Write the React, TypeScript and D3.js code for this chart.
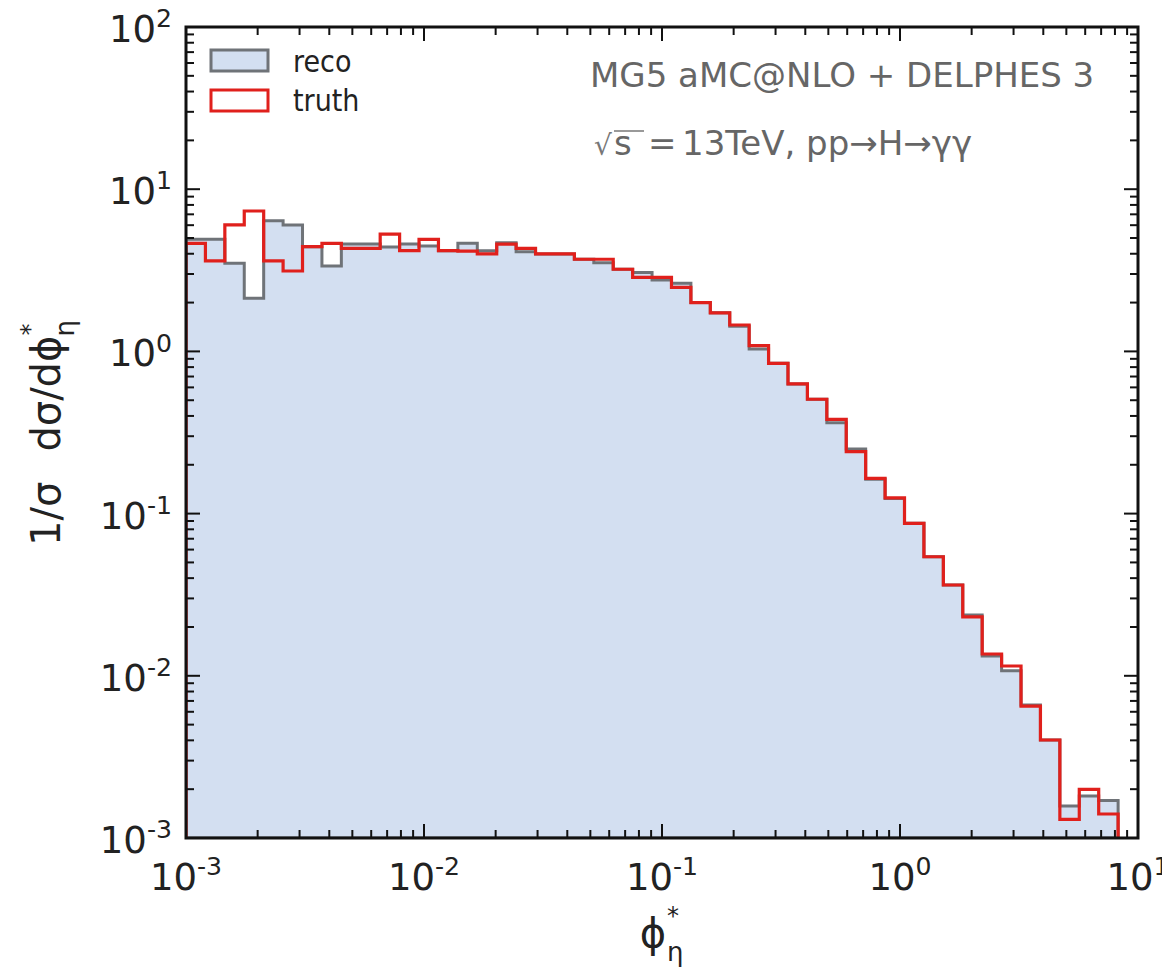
import React from 'react';
import * as d3 from 'd3';

// ---- data ----
const binMin = 1e-3;
const binMax = 8.25;
const nBins = 48;
const reco = [4.91, 4.91, 3.49, 2.13, 6.39, 6.02, 4.42, 3.36, 4.59, 4.59, 4.4, 4.59, 4.47, 4.18, 4.64, 4.18, 4.68, 4.12, 3.99, 3.99, 3.70, 3.52, 3.21, 3.06, 2.76, 2.63, 2.00, 1.73, 1.43, 1.035, 0.844, 0.63, 0.507, 0.363, 0.250, 0.163, 0.124, 0.0871, 0.0542, 0.0363, 0.0237, 0.01325, 0.01075, 0.0066, 0.00402, 0.001575, 0.001815, 0.0017];
const truth = [4.64, 3.62, 6.02, 7.34, 3.62, 3.13, 4.42, 4.64, 4.32, 4.32, 5.29, 4.18, 4.9, 4.18, 4.15, 3.99, 4.59, 4.32, 3.99, 3.99, 3.70, 3.70, 3.21, 2.86, 2.86, 2.48, 2.00, 1.73, 1.455, 1.084, 0.844, 0.630, 0.507, 0.381, 0.241, 0.165, 0.125, 0.0871, 0.0542, 0.0363, 0.0231, 0.01363, 0.01149, 0.00651, 0.00402, 0.001304, 0.001997, 0.001406];
const xTickExps = [-3, -2, -1, 0, 1];
const yTickExps = [-3, -2, -1, 0, 1, 2];
const legendLabels = ['reco', 'truth'];
const annotation1 = 'MG5 aMC@NLO + DELPHES 3';
const annotation2 = '13TeV, pp\u2192H\u2192\u03b3\u03b3';

// ---- layout ----
const W = 1162, H = 971;
const L = 186, R = 1138, T = 27, B = 838;
const FONT = 'DejaVu Sans, sans-serif';
const FILL = '#d3dff1';
const GRAY = '#6f7378';
const RED = '#e0201c';

const x = d3.scaleLog().domain([1e-3, 10]).range([L, R]);
const y = d3.scaleLog().domain([1e-3, 100]).range([B, T]);

const lmin = Math.log10(binMin), lmax = Math.log10(binMax);
const edges = d3.range(nBins + 1).map(i => Math.pow(10, lmin + (i * (lmax - lmin)) / nBins));

function stepPoints(vals: number[]): [number, number][] {
  const pts: [number, number][] = [[x(edges[0]), B]];
  vals.forEach((v, i) => {
    pts.push([x(edges[i]), y(v)]);
    pts.push([x(edges[i + 1]), y(v)]);
  });
  pts.push([x(edges[nBins]), B]);
  return pts;
}

const line = d3.line<[number, number]>();

function minorTicks(lo: number, hi: number) {
  const out: number[] = [];
  for (let e = lo; e < hi; e++) for (let m = 2; m <= 9; m++) out.push(m * Math.pow(10, e));
  return out;
}

function Pow({ px, py, exp, anchor, fs }: { px: number; py: number; exp: number; anchor: string; fs: number }) {
  return (
    <text x={px} y={py} fontSize={fs} fontFamily={FONT} textAnchor={anchor as any} fill="#222">
      10<tspan fontSize={fs * 0.68} dy={-fs * 0.4}>{String(exp)}</tspan>
    </text>
  );
}

export default function App() {
  const recoPts = stepPoints(reco);
  const truthPts = stepPoints(truth);
  const MAJ = 14, MIN = 8;
  const xMinor = minorTicks(-3, 1);
  const yMinor = minorTicks(-3, 2);
  const tickFs = 37;
  return (
    <svg width={W} height={H} style={{ position: 'absolute', left: 0, top: 0, background: '#fff' }}>
      <defs>
        <clipPath id="plot"><rect x={L} y={T} width={R - L} height={B - T} /></clipPath>
      </defs>
      <g clipPath="url(#plot)">
        <path d={line(recoPts) + 'Z'} fill={FILL} stroke={GRAY} strokeWidth={3} strokeLinejoin="miter" />
        <path d={line(truthPts)!} fill="none" stroke={RED} strokeWidth={3.2} strokeLinejoin="miter" />
      </g>
      {/* ticks */}
      <g stroke="#111" strokeWidth={2}>
        {xTickExps.map(e => {
          const px = x(Math.pow(10, e));
          return <g key={'xm' + e}><line x1={px} x2={px} y1={B} y2={B - MAJ} /><line x1={px} x2={px} y1={T} y2={T + MAJ} /></g>;
        })}
        {xMinor.map((v, i) => {
          const px = x(v);
          return <g key={'xn' + i}><line x1={px} x2={px} y1={B} y2={B - MIN} /><line x1={px} x2={px} y1={T} y2={T + MIN} /></g>;
        })}
        {yTickExps.map(e => {
          const py = y(Math.pow(10, e));
          return <g key={'ym' + e}><line x1={L} x2={L + MAJ} y1={py} y2={py} /><line x1={R} x2={R - MAJ} y1={py} y2={py} /></g>;
        })}
        {yMinor.map((v, i) => {
          const py = y(v);
          return <g key={'yn' + i}><line x1={L} x2={L + MIN} y1={py} y2={py} /><line x1={R} x2={R - MIN} y1={py} y2={py} /></g>;
        })}
      </g>
      <rect x={L} y={T} width={R - L} height={B - T} fill="none" stroke="#111" strokeWidth={3} />
      {/* tick labels */}
      {xTickExps.map(e => (
        <Pow key={'xl' + e} px={x(Math.pow(10, e))} py={890} exp={e} anchor="middle" fs={tickFs} />
      ))}
      {yTickExps.map(e => (
        <Pow key={'yl' + e} px={172} py={y(Math.pow(10, e)) + 15} exp={e} anchor="end" fs={tickFs} />
      ))}
      {/* legend */}
      <rect x={211} y={50} width={57} height={21} fill={FILL} stroke={GRAY} strokeWidth={3} />
      <rect x={211} y={90} width={57} height={21} fill="none" stroke={RED} strokeWidth={3} />
      <text transform={`translate(293,72) scale(1,1.1)`} fontSize={27} fontFamily={FONT} fill="#222">{legendLabels[0]}</text>
      <text transform={`translate(293,111) scale(1,1.1)`} fontSize={27} fontFamily={FONT} fill="#222">{legendLabels[1]}</text>
      {/* annotations */}
      <text x={590} y={87} fontSize={34} fontFamily={FONT} fill="#666">{annotation1}</text>
      <text x={594} y={155} fontSize={28} fontFamily={FONT} fill="#777">{'\u221a'}</text>
      <line x1={614} x2={644} y1={131} y2={131} stroke="#777" strokeWidth={1.5} />
      <text x={614} y={155} fontSize={34} fontFamily={FONT} fill="#666">s</text>
      <text x={648} y={155} fontSize={34} fontFamily={FONT} fill="#666">=</text>
      <text x={682} y={155} fontSize={34} fontFamily={FONT} fill="#666">{annotation2}</text>
      {/* axis titles */}
      <g transform="translate(653,947)">
        <text fontSize={40} fontFamily={FONT} textAnchor="middle" fill="#222">{'\u03d5'}</text>
        <text x={14} y={-23} fontSize={24} fontFamily={FONT} fill="#222">*</text>
        <text x={14} y={14} fontSize={26} fontFamily={FONT} fill="#222">{'\u03b7'}</text>
      </g>
      <g transform="translate(60,433) rotate(-90)">
        <text fontSize={40} fontFamily={FONT} textAnchor="middle" fill="#222">
          1/σ<tspan dx={30}>dσ/d{'\u03d5'}</tspan><tspan fontSize={24} dy={-22}>*</tspan><tspan fontSize={26} dx={-13} dy={36}>{'\u03b7'}</tspan>
        </text>
      </g>
    </svg>
  );
}
